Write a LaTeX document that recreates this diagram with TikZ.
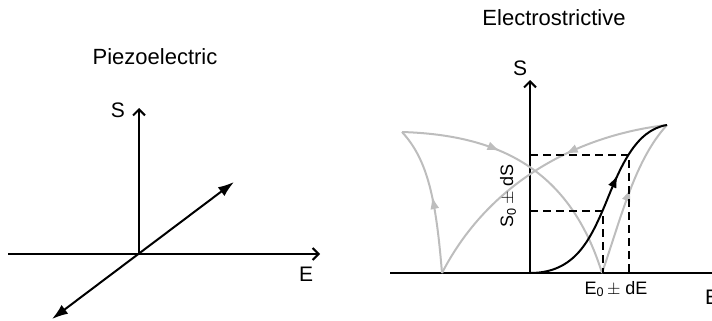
\documentclass[tikz,border=0pt]{standalone}
\usepackage{fontspec}
\setmainfont{Liberation Sans}
\usetikzlibrary{arrows.meta,decorations.markings}
\definecolor{ink}{HTML}{000000}
\definecolor{loopgray}{HTML}{BDBDBD}
\tikzset{
  title/.style={font=\fontsize{22}{26}\selectfont,inner sep=0pt},
  axlabel/.style={font=\fontsize{21}{25}\selectfont,inner sep=0pt},
  ticklabel/.style={font=\fontsize{18}{22}\selectfont,inner sep=0pt},
  axis/.style={draw=ink,line width=2pt,-{Straight Barb[length=6pt,width=12pt]}},
  bare/.style={draw=ink,line width=2pt},
  response/.style={draw=ink,line width=2pt,{Latex[length=16pt,width=11pt]}-{Latex[length=16pt,width=11pt]}},
  guide/.style={draw=ink,line width=1.8pt,dash pattern=on 8pt off 5pt},
  branch/.style={color=loopgray,line width=2pt,postaction={decorate},
    decoration={markings,mark=at position #1 with {\arrow{Latex[length=13pt,width=9pt]}}}},
  curve/.style={color=ink,line width=2pt,postaction={decorate},
    decoration={markings,mark=at position #1 with {\arrow{Latex[length=13pt,width=9pt]}}}}
}
\begin{document}
\begin{tikzpicture}[x=1pt,y=-1pt]
\useasboundingbox (0,0) rectangle (712,321);

% piezoelectric panel
\node[title] (ptitle) at (155,57) {Piezoelectric};
\coordinate (po) at (139,254);
\coordinate (pstop) at (139,108);
\coordinate (peleft) at (8,254);
\coordinate (peright) at (320,254);
\coordinate (plow) at (52,319);
\coordinate (phigh) at (234,182);
\draw[axis] (po) -- (pstop);
\draw[axis] (peleft) -- (peright);
\draw[response] (plow) -- (phigh);
\node[axlabel] (ps) at (118,110) {S};
\node[axlabel] (pe) at (306,274) {E};

% electrostrictive panel
\node[title] (etitle) at (554,18) {Electrostrictive};
\coordinate (eo) at (530,273);
\coordinate (estop) at (530,80);
\coordinate (eleft) at (390,273);
\coordinate (eright) at (720,273);
\coordinate (cuspl) at (402,132);
\coordinate (cuspr) at (667,125);
\coordinate (footl) at (442,273);
\coordinate (footr) at (602,273);
\draw[bare] (eleft) -- (eright);
\draw[axis] (eo) -- (estop);

% hysteresis branches
\draw[branch=0.38] (cuspl) .. controls (500,135) and (570,170) .. (footr);
\draw[branch=0.38] (cuspr) .. controls (580,135) and (490,180) .. (footl);
\draw[branch=0.52] (footl) .. controls (436,200) and (428,160) .. (cuspl);
\draw[branch=0.55] (footr) .. controls (622,215) and (635,160) .. (cuspr);

% working point
\draw[guide] (530,155) -- (629,155) -- (629,273);
\draw[guide] (530,211) -- (603,211) -- (603,273);
\draw[curve=0.66] (eo) .. controls (575,273) and (590,240) .. (605,205)
  .. controls (620,168) and (635,130) .. (cuspr);

\node[axlabel] (es) at (520,68) {S};
\node[axlabel] (ee) at (712,297) {E};
\node[ticklabel] (de) at (616,289) {E\textsubscript{0}\,$\pm$ dE};
\node[ticklabel,rotate=90] (ds) at (508,196) {S\textsubscript{0}\,$\pm$ dS};
\end{tikzpicture}
\end{document}
